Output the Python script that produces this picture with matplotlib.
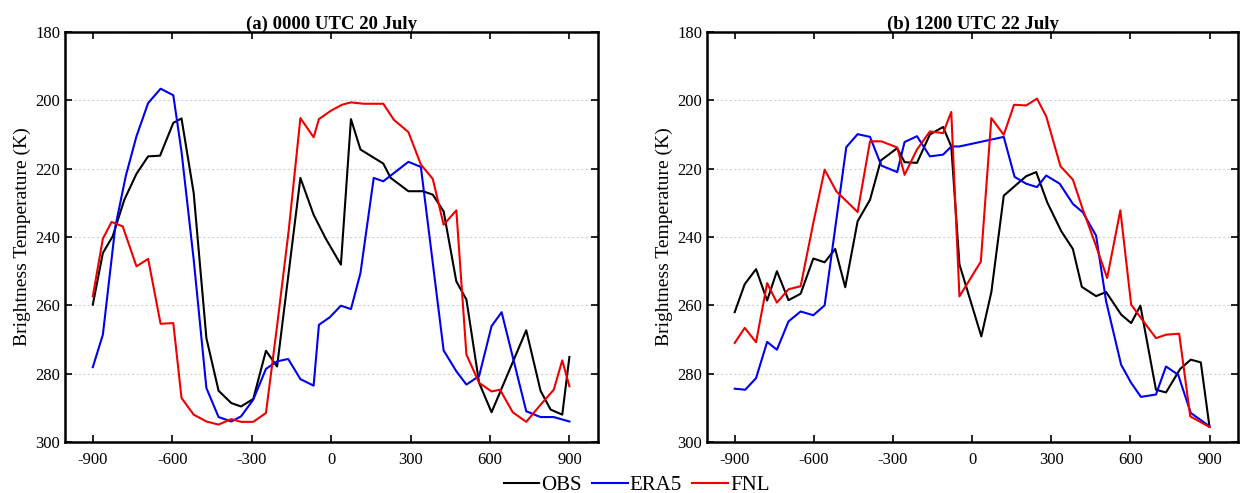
import matplotlib.pyplot as plt
import numpy as np

plt.rcParams['font.family'] = ['Liberation Serif', 'DejaVu Serif']
plt.rcParams['axes.unicode_minus'] = False

# panel (a) 0000 UTC 20 July
a_obs_x = [-900, -862, -825, -781, -735, -691, -646, -596, -565, -519, -471, -425, -377, -340,
           -294, -246, -204, -116, -66, -20, 37, 75, 111, 197, 225, 292, 346, 384, 425, 473,
           511, 559, 606, 737, 791, 829, 873, 900]
a_obs_y = [259.8, 244.7, 239.8, 229.1, 221.5, 216.4, 216.2, 206.6, 205.3, 227.1, 269.6, 285.0,
           288.6, 289.6, 287.4, 273.3, 277.9, 222.7, 233.5, 240.5, 248.1, 205.5, 214.4, 218.5,
           222.7, 226.6, 226.6, 227.6, 232.5, 253.0, 258.3, 282.7, 291.3, 267.3, 285.0, 290.5,
           292.0, 275.1]
a_era_x = [-900, -862, -815, -775, -735, -691, -644, -596, -565, -519, -471, -425, -377, -340,
           -294, -246, -204, -162, -116, -66, -46, -5, 37, 75, 111, 161, 197, 292, 339, 425,
           473, 511, 559, 606, 644, 737, 791, 841, 900]
a_era_y = [278.1, 268.6, 237.0, 222.0, 210.5, 200.8, 196.6, 198.5, 215.0, 246.6, 284.2, 292.7,
           294.0, 292.5, 287.6, 278.6, 276.4, 275.7, 281.6, 283.5, 265.7, 263.5, 260.1, 261.1,
           250.5, 222.7, 223.7, 218.0, 219.5, 273.2, 279.3, 283.2, 280.7, 266.1, 262.0, 291.0,
           292.7, 292.7, 294.0]
a_fnl_x = [-900, -862, -829, -787, -735, -691, -644, -596, -565, -519, -471, -425, -377, -340,
           -294, -246, -204, -160, -116, -66, -46, 0, 41, 75, 123, 197, 237, 292, 339, 384,
           425, 473, 511, 559, 606, 638, 686, 737, 791, 841, 873, 900]
a_fnl_y = [257.4, 240.5, 235.6, 236.9, 248.6, 246.4, 265.4, 265.2, 287.1, 292.0, 294.0, 294.9,
           293.3, 294.1, 294.1, 291.5, 266.0, 238.0, 205.2, 210.8, 205.5, 203.0, 201.3, 200.6,
           201.0, 201.0, 205.7, 209.3, 218.8, 223.0, 236.4, 232.2, 274.4, 282.7, 285.2, 284.7,
           291.3, 294.1, 289.1, 284.7, 276.1, 283.7]

# panel (b) 1200 UTC 22 July
b_obs_x = [-900, -862, -819, -777, -740, -696, -650, -602, -559, -519, -481, -434, -387, -346,
           -284, -256, -209, -160, -110, -79, -48, 35, 73, 120, 205, 243, 285, 338, 382, 416,
           470, 508, 565, 603, 638, 697, 735, 789, 829, 867, 900]
b_obs_y = [262.0, 253.8, 249.4, 258.6, 250.0, 258.5, 256.6, 246.3, 247.4, 243.5, 254.7, 235.4,
           229.1, 217.6, 214.0, 218.1, 218.3, 210.0, 207.8, 213.5, 248.0, 269.1, 256.1, 227.9,
           222.2, 221.0, 229.9, 238.3, 243.5, 254.6, 257.3, 256.1, 262.7, 265.2, 260.1, 284.7,
           285.5, 278.6, 275.9, 276.7, 295.6]
b_era_x = [-900, -860, -819, -777, -740, -696, -650, -602, -559, -477, -434, -387, -344, -284,
           -256, -209, -160, -110, -79, -48, 120, 161, 205, 246, 281, 332, 382, 420, 470, 508,
           565, 603, 640, 697, 735, 781, 829, 900]
b_era_y = [284.4, 284.7, 281.3, 270.7, 273.0, 264.7, 261.8, 262.9, 260.0, 213.7, 209.9, 210.7,
           219.1, 221.0, 212.2, 210.5, 216.4, 215.9, 213.5, 213.5, 210.7, 222.4, 224.4, 225.4,
           222.0, 224.4, 230.3, 232.8, 239.6, 258.8, 277.4, 282.7, 286.8, 286.1, 277.9, 280.3,
           291.5, 295.4]
b_fnl_x = [-900, -862, -819, -777, -740, -696, -650, -602, -559, -515, -434, -387, -344, -284,
           -256, -209, -160, -110, -79, -48, 33, 73, 120, 159, 205, 246, 281, 335, 382, 420,
           466, 512, 562, 603, 640, 697, 735, 785, 827, 900]
b_fnl_y = [271.0, 266.6, 270.8, 253.5, 259.2, 255.3, 254.4, 235.9, 220.3, 226.6, 232.7, 212.0,
           212.0, 213.8, 221.8, 214.4, 209.1, 209.6, 203.4, 257.4, 247.2, 205.2, 210.1, 201.3,
           201.5, 199.5, 204.7, 219.3, 223.2, 232.0, 241.8, 252.0, 232.2, 259.8, 263.7, 269.6,
           268.6, 268.3, 292.5, 295.6]

panels = [
    ("(a) 0000 UTC 20 July", a_obs_x, a_obs_y, a_era_x, a_era_y, a_fnl_x, a_fnl_y),
    ("(b) 1200 UTC 22 July", b_obs_x, b_obs_y, b_era_x, b_era_y, b_fnl_x, b_fnl_y),
]
lefts = [65 / 1241, 707 / 1241]
widths = [533 / 1241, 531 / 1241]

fig = plt.figure(figsize=(12.41, 4.93), dpi=100)
for i, (title, ox, oy, ex, ey, fx, fy) in enumerate(panels):
    ax = fig.add_axes([lefts[i], 51 / 493, widths[i], 410 / 493])
    l1, = ax.plot(ox, oy, color='black', lw=1.5, label='OBS')
    l2, = ax.plot(ex, ey, color='#0000ee', lw=1.5, label='ERA5')
    l3, = ax.plot(fx, fy, color='#ee0000', lw=1.5, label='FNL')
    ax.set_xlim(-1005, 1008)
    ax.set_ylim(300, 180)
    ax.set_xticks(np.arange(-900, 901, 300))
    ax.set_yticks(np.arange(180, 301, 20))
    ax.yaxis.grid(True, linestyle=(0, (2, 2)), color='#d0d0d0', lw=0.8)
    ax.tick_params(direction='in', top=True, right=True, labelsize=12, length=5, width=1.2)
    ax.tick_params(axis='x', pad=7)
    for s in ax.spines.values():
        s.set_linewidth(1.8)
    ax.set_ylabel("Brightness Temperature (K)", fontsize=14, labelpad=3)
    ax.set_title(title, fontsize=13.5, fontweight='bold', pad=2)

fig.legend([l1, l2, l3], ['OBS', 'ERA5', 'FNL'], loc='center', bbox_to_anchor=(0.513, 0.016),
           ncol=3, frameon=False, fontsize=15, handlelength=1.7, handletextpad=0.1,
           columnspacing=0.5)
fig.savefig('out.png', dpi=100)
